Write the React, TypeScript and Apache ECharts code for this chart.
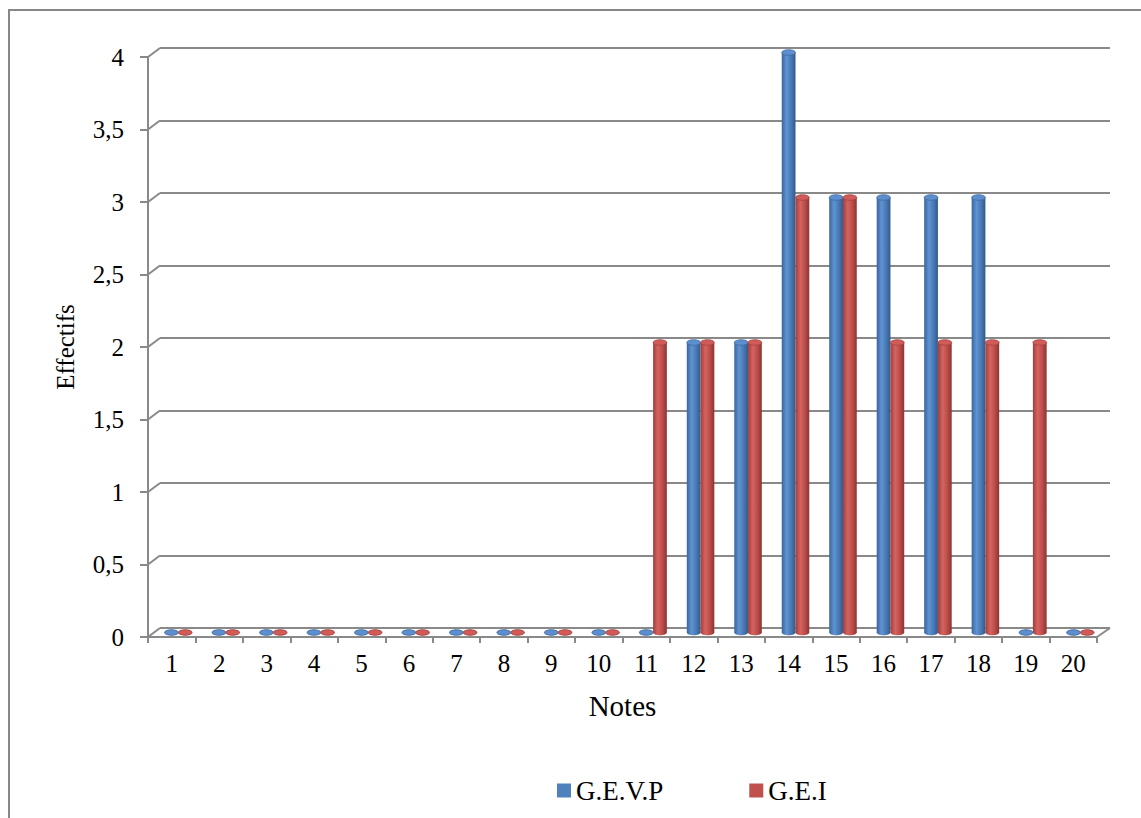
import React, { useEffect, useRef } from "react";
import * as echarts from "echarts";

const categories = ["1","2","3","4","5","6","7","8","9","10","11","12","13","14","15","16","17","18","19","20"];
const gevp = [0,0,0,0,0,0,0,0,0,0,0,2,2,4,3,3,3,3,0,0];
const gei = [0,0,0,0,0,0,0,0,0,0,2,2,2,3,3,2,2,2,2,0];
const seriesNames = ["G.E.V.P", "G.E.I"];
const yTicks = [0, 0.5, 1, 1.5, 2, 2.5, 3, 3.5, 4];

const W = 1141;
const H = 818;
// front plane (axes), back wall (gridlines), mid depth (bars)
const F = { x0: 148, x1: 1097, y0: 637, y1: 57 };
const B = { x0: 160, x1: 1110, y0: 628, y1: 48 };
const M = { x0: 154, x1: 1103.5, y0: 632.5, y1: 52.5 };

const FONT = "'Liberation Serif', 'Times New Roman', serif";
const GRID_COLOR = "#898989";

function grad(stops: string[]) {
  return new echarts.graphic.LinearGradient(0, 0, 1, 0, [
    { offset: 0, color: stops[0] },
    { offset: 0.35, color: stops[1] },
    { offset: 0.65, color: stops[2] },
    { offset: 1, color: stops[3] },
  ]);
}

const palettes = [
  { base: "#4f81bd", body: ["#3a659c", "#5f93d3", "#4b7cb8", "#335a8a"], top: "#5d8fcf", rim: "#3f6aa0" },
  { base: "#c0504d", body: ["#a03f3c", "#d66360", "#be4f4c", "#8c3532"], top: "#d05b58", rim: "#a4413e" },
];

function cylinderSeries(idx: number, values: number[]) {
  const pal = palettes[idx];
  const sign = idx === 0 ? -1 : 1;
  return {
    type: "custom",
    name: seriesNames[idx],
    xAxisIndex: 2,
    yAxisIndex: 2,
    itemStyle: { color: pal.base },
    data: values.map((v, i) => [i, v]),
    encode: { x: 0, y: 1 },
    renderItem: (params: any, api: any) => {
      const ci = api.value(0);
      const v = api.value(1);
      const base = api.coord([ci, 0]);
      const top = api.coord([ci, v]);
      const band = api.size([1, 0])[0];
      const w = band * 0.29;
      const cx = base[0] + sign * w / 2 + 0.6;
      const rx = w / 2;
      const ry = w * 0.2;
      const fill = grad(pal.body);
      return {
        type: "group",
        children: [
          { type: "ellipse", shape: { cx, cy: base[1], rx, ry }, style: { fill } },
          {
            type: "rect",
            shape: { x: cx - rx, y: top[1], width: w, height: Math.max(0, base[1] - top[1]) },
            style: { fill },
          },
          {
            type: "ellipse",
            shape: { cx, cy: top[1], rx, ry },
            style: { fill: pal.top, stroke: pal.rim, lineWidth: 0.8 },
          },
        ],
      };
    },
  };
}

function yScale(p: { y0: number; y1: number }, v: number) {
  return p.y0 + (p.y1 - p.y0) * (v / 4);
}

export default function App() {
  const ref = useRef<HTMLDivElement>(null);
  useEffect(() => {
    if (!ref.current) return;
    const chart = echarts.init(ref.current, null, { renderer: "svg" });
    const lineStyle = { stroke: GRID_COLOR, lineWidth: 2 };
    const frame: any[] = [
      {
        type: "rect",
        shape: { x: 9, y: 10, width: 1200, height: 900 },
        style: { fill: "none", stroke: "#878787", lineWidth: 2 },
        silent: true,
      },
    ];
    yTicks.forEach((v) => {
      frame.push({
        type: "line",
        shape: { x1: F.x0, y1: yScale(F, v), x2: B.x0, y2: yScale(B, v) },
        style: lineStyle,
        silent: true,
      });
    });
    frame.push({
      type: "line",
      shape: { x1: F.x1, y1: F.y0, x2: B.x1, y2: B.y0 },
      style: lineStyle,
      silent: true,
    });

    const option: any = {
      animation: false,
      backgroundColor: "#ffffff",
      textStyle: { fontFamily: FONT },
      grid: [
        { left: B.x0, right: W - B.x1, top: B.y1, bottom: H - B.y0 },
        { left: F.x0, right: W - F.x1, top: F.y1, bottom: H - F.y0 },
        { left: M.x0, right: W - M.x1, top: M.y1, bottom: H - M.y0 },
      ],
      xAxis: [
        { gridIndex: 0, type: "category", data: categories, show: false },
        {
          gridIndex: 1,
          type: "category",
          data: categories,
          axisLine: { show: true, lineStyle: { color: GRID_COLOR, width: 2 } },
          axisTick: { show: true, length: 6, lineStyle: { color: GRID_COLOR, width: 2 } },
          axisLabel: { color: "#000", fontSize: 25, fontFamily: FONT, margin: 14 },
          splitLine: { show: false },
          name: "Notes",
          nameLocation: "middle",
          nameGap: 54,
          nameTextStyle: { color: "#000", fontSize: 29, fontFamily: FONT },
        },
        { gridIndex: 2, type: "category", data: categories, show: false },
      ],
      yAxis: [
        {
          gridIndex: 0,
          type: "value",
          min: 0,
          max: 4,
          interval: 0.5,
          axisLine: { show: false },
          axisTick: { show: false },
          axisLabel: { show: false },
          splitLine: { show: true, lineStyle: { color: GRID_COLOR, width: 2 } },
        },
        {
          gridIndex: 1,
          type: "value",
          min: 0,
          max: 4,
          interval: 0.5,
          axisLine: { show: true, lineStyle: { color: GRID_COLOR, width: 2 } },
          axisTick: { show: true, length: 8, lineStyle: { color: GRID_COLOR, width: 2 } },
          axisLabel: {
            color: "#000",
            fontSize: 25,
            fontFamily: FONT,
            margin: 24,
            formatter: (v: number) => String(v).replace(".", ","),
          },
          splitLine: { show: false },
          name: "Effectifs",
          nameLocation: "middle",
          nameGap: 70,
          nameRotate: 90,
          nameTextStyle: { color: "#000", fontSize: 25, fontFamily: FONT },
        },
        { gridIndex: 2, type: "value", min: 0, max: 4, show: false },
      ],
      legend: {
        data: seriesNames,
        left: 552,
        top: 772,
        icon: "rect",
        itemWidth: 14,
        itemHeight: 14,
        itemGap: 86,
        textStyle: { color: "#000", fontSize: 27, fontFamily: FONT },
      },
      graphic: frame,
      series: [cylinderSeries(0, gevp), cylinderSeries(1, gei)],
    };
    chart.setOption(option);
    return () => chart.dispose();
  }, []);
  return (
    <div
      ref={ref}
      style={{ position: "fixed", left: 0, top: 0, width: W, height: H, background: "#fff" }}
    />
  );
}
